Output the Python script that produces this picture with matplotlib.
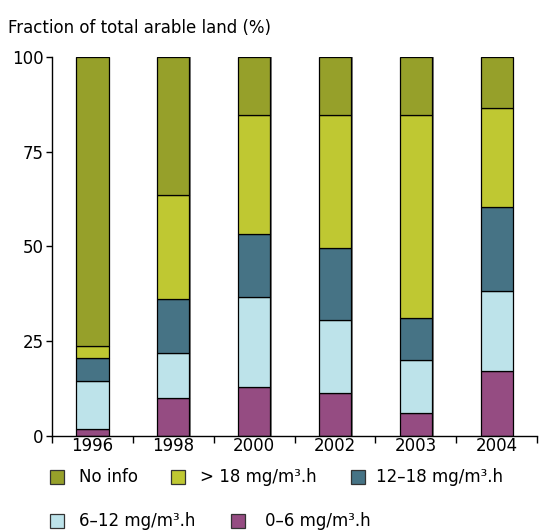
import numpy as np
import matplotlib.pyplot as plt
from matplotlib.patches import Rectangle

years = ['1996', '1998', '2000', '2002', '2003', '2004']
labels = ['0–6 mg/m³.h', '6–12 mg/m³.h', '12–18 mg/m³.h', '> 18 mg/m³.h', 'No info']
colors = ['#954c82', '#bde3ea', '#467385', '#bfc832', '#96a02a']
v_0_6 = [1.8, 10.0, 12.9, 11.3, 6.0, 17.1]
v_6_12 = [12.7, 11.9, 23.8, 19.3, 14.0, 21.2]
v_12_18 = [6.1, 14.2, 16.6, 19.0, 11.1, 22.1]
v_18 = [3.1, 27.5, 31.4, 35.1, 53.6, 26.1]
v_noinfo = [76.3, 36.4, 15.3, 15.3, 15.3, 13.5]
series = [v_0_6, v_6_12, v_12_18, v_18, v_noinfo]

plt.rcParams['font.family'] = ['DejaVu Sans']
fig = plt.figure(figsize=(5.39, 5.32), dpi=100)
ax = fig.add_axes([0.0965, 0.1805, 0.9, 0.7125])

x = np.arange(len(years))
total = np.sum(series, axis=0)
# light shadow on the right side of each column
ax.bar(x + 0.02, total, 0.4, color='#808080', linewidth=0, zorder=2)
bottom = np.zeros(len(years))
for vals, col in zip(series, colors):
    ax.bar(x, vals, 0.4, bottom=bottom, color=col, edgecolor='black', linewidth=0.9, zorder=3)
    bottom += np.array(vals)

ax.set_xlim(-0.5, 5.5)
ax.set_ylim(0, 100)
ax.set_yticks([0, 25, 50, 75, 100])
ax.tick_params(axis='y', labelsize=12, length=4, width=1, pad=2)
ax.set_xticks(x)
ax.set_xticklabels(years)
ax.tick_params(axis='x', labelsize=12, length=0, pad=1)
ax.set_xticks(np.arange(len(years) + 1) - 0.5, minor=True)
ax.tick_params(axis='x', which='minor', length=5, width=1, direction='out')
for s in ['top', 'right']:
    ax.spines[s].set_visible(False)
for s in ['left', 'bottom']:
    ax.spines[s].set_linewidth(1)
    ax.spines[s].set_zorder(4)

fig.text(0.015, 0.947, 'Fraction of total arable land (%)', fontsize=12, va='center')

# legend, drawn by hand in two rows
leg_order = [4, 3, 2, 1, 0]
box_x = [50, 171, 351, 50, 231]
txt_x = [79, 200, 376, 79, 265]
row_y = [477, 477, 477, 521, 521]
W, H = 539, 532
for k, i in enumerate(leg_order):
    fig.patches.append(Rectangle((box_x[k] / W, 1 - (row_y[k] + 7) / H), 14 / W, 14 / H,
                                 facecolor=colors[i], edgecolor='#333333', linewidth=0.9,
                                 transform=fig.transFigure, figure=fig))
    fig.text(txt_x[k] / W, 1 - row_y[k] / H, labels[i], fontsize=12, va='center')

fig.savefig('out.png', dpi=100)
